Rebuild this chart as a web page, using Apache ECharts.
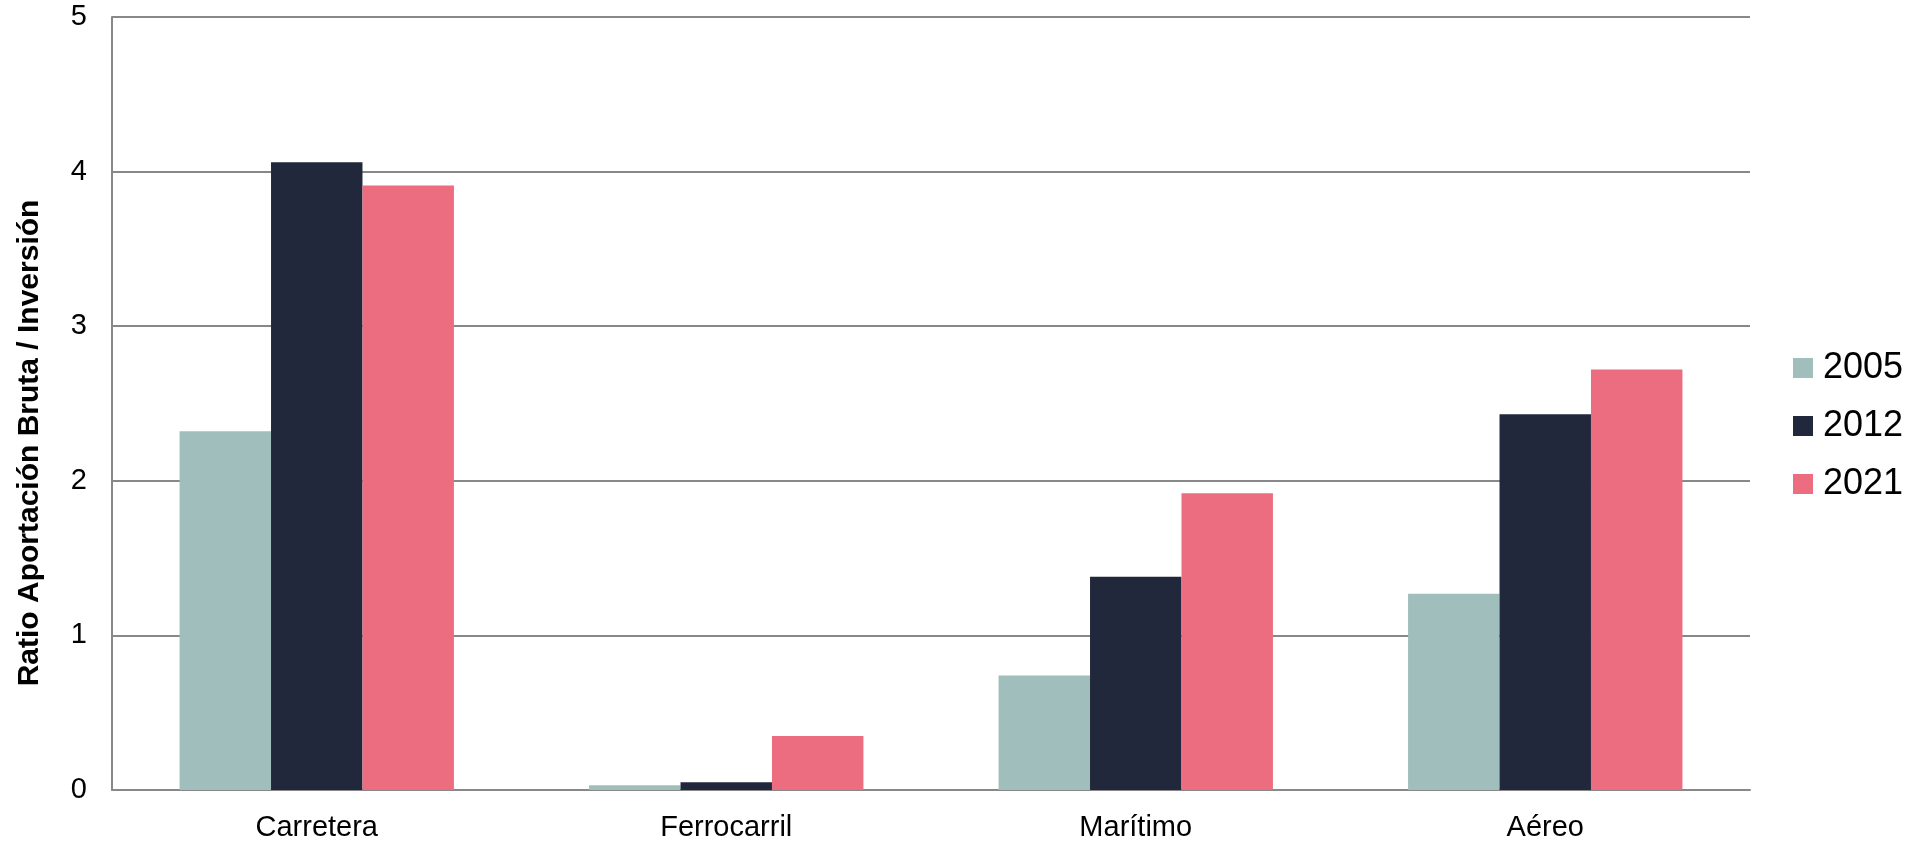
<!DOCTYPE html>
<html>
<head>
<meta charset="utf-8">
<script src="https://cdn.jsdelivr.net/npm/echarts@6/dist/echarts.min.js"></script>
<style>
  html, body { margin: 0; padding: 0; background: #fff; }
  #chart { width: 1915px; height: 842px; }
</style>
</head>
<body>
<div id="chart"></div>
<script>
const categories = ["Carretera", "Ferrocarril", "Marítimo", "Aéreo"];
const years = ["2005", "2012", "2021"];
const values2005 = [2.32, 0.03, 0.74, 1.27];
const values2012 = [4.06, 0.05, 1.38, 2.43];
const values2021 = [3.91, 0.35, 1.92, 2.72];
const yTicks = [0, 1, 2, 3, 4, 5];

const colors = ["#9fbebc", "#22283b", "#ec6d7f"];
const font = '"Liberation Sans", Arial, sans-serif';

const chart = echarts.init(document.getElementById("chart"), null, { renderer: "canvas" });

const seriesData = [values2005, values2012, values2021];

chart.setOption({
  backgroundColor: "#ffffff",
  animation: false,
  textStyle: { fontFamily: font },
  grid: { left: 112, right: 165, top: 17, bottom: 52 },
  legend: {
    orient: "vertical",
    left: 1793,
    top: 350,
    padding: 0,
    itemWidth: 20,
    itemHeight: 20,
    itemGap: 22,
    icon: "rect",
    data: years,
    textStyle: { fontSize: 36, lineHeight: 36, color: "#000", fontFamily: font, padding: [0, 0, 0, 5] }
  },
  xAxis: {
    type: "category",
    data: categories,
    axisLine: { show: true, lineStyle: { color: "#888888", width: 2 } },
    axisTick: { show: false },
    axisLabel: { fontSize: 29, color: "#000", margin: 23, fontFamily: font }
  },
  yAxis: {
    type: "value",
    min: yTicks[0],
    max: yTicks[yTicks.length - 1],
    interval: 1,
    axisLine: { show: true, lineStyle: { color: "#888888", width: 2 } },
    axisTick: { show: false },
    splitLine: { show: true, lineStyle: { color: "#888888", width: 2 } },
    axisLabel: { fontSize: 29, color: "#000", margin: 25, fontFamily: font }
  },
  graphic: [{
    type: "text",
    x: 30,
    y: 443,
    rotation: Math.PI / 2,
    style: {
      text: "Ratio Aportación Bruta / Inversión",
      font: 'bold 30px "Liberation Sans", Arial, sans-serif',
      fill: "#000",
      textAlign: "center",
      textVerticalAlign: "middle"
    }
  }],
  series: years.map((y, i) => ({
    name: y,
    type: "bar",
    data: seriesData[i],
    barGap: "0%",
    barCategoryGap: "33%",
    itemStyle: { color: colors[i] }
  }))
});
</script>
</body>
</html>
